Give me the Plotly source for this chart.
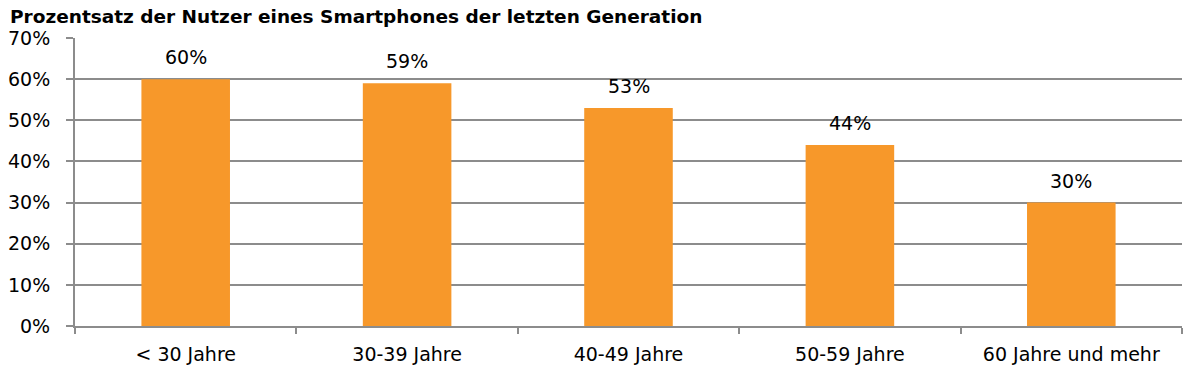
import plotly.graph_objects as go

categories = ["< 30 Jahre", "30-39 Jahre", "40-49 Jahre", "50-59 Jahre", "60 Jahre und mehr"]
values = [60, 59, 53, 44, 30]
labels = ["60%", "59%", "53%", "44%", "30%"]
y_ticks = [0, 10, 20, 30, 40, 50, 60, 70]
y_ticklabels = ["0%", "10%", "20%", "30%", "40%", "50%", "60%", "70%"]
title_text = "Prozentsatz der Nutzer eines Smartphones der letzten Generation"

ORANGE = "#F7982A"
GRID = "#8C8C8C"
FONT = "DejaVu Sans"
L, R, T, B = 67, 26, 30, 59
W, H = 1200, 377

fig = go.Figure(go.Bar(
    x=categories, y=values, marker=dict(color=ORANGE, line=dict(width=0)),
    width=0.4, hoverinfo="skip",
))

for c, v, t in zip(categories, values, labels):
    fig.add_annotation(x=c, y=v, text=t, showarrow=False, yanchor="bottom",
                       yshift=9, font=dict(family=FONT, size=19, color="#000"))

fig.add_annotation(xref="paper", yref="paper", x=-L / (W - L - R), y=1,
                   xanchor="left", yanchor="bottom", yshift=9, showarrow=False,
                   text="<b>" + title_text + "</b>",
                   font=dict(family=FONT, size=18.5, color="#000"))

fig.update_layout(
    width=W, height=H,
    margin=dict(l=L, r=R, t=T, b=B),
    paper_bgcolor="white", plot_bgcolor="white",
    showlegend=False,
    bargap=0.6,
)
fig.update_yaxes(range=[0, 70], tickvals=y_ticks, ticktext=y_ticklabels,
                 showgrid=True, gridcolor=GRID, gridwidth=2,
                 showline=True, linecolor=GRID, linewidth=2,
                 ticks="outside", ticklen=7, tickcolor=GRID, tickwidth=2,
                 ticklabelstandoff=12, automargin=False,
                 tickfont=dict(family=FONT, size=19, color="#000"), zeroline=False)
fig.update_xaxes(showline=True, linecolor=GRID, linewidth=2,
                 ticks="outside", ticklen=6, tickcolor=GRID, tickwidth=2,
                 tickson="boundaries", ticklabelstandoff=10, automargin=False,
                 tickfont=dict(family=FONT, size=19, color="#000"))

fig.write_html("out.html")
